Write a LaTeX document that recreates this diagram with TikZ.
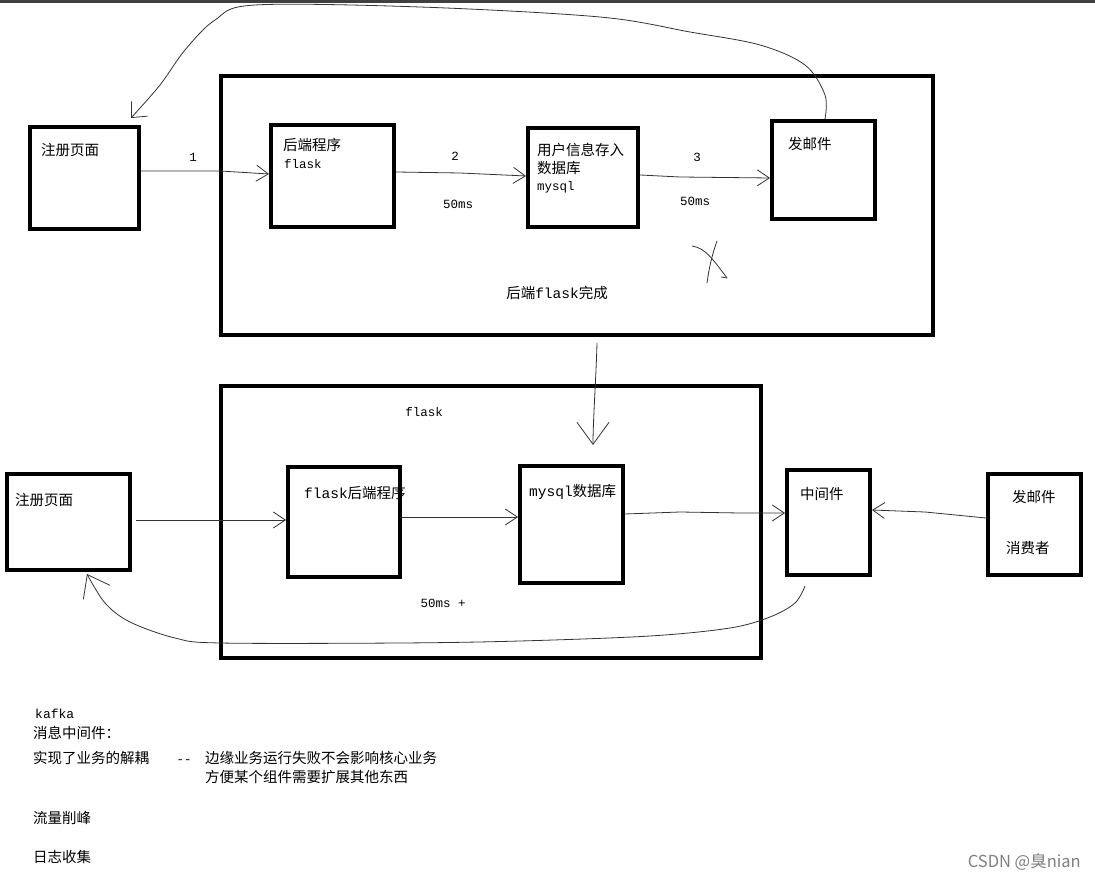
\documentclass[tikz,border=0pt]{standalone}
\usepackage{fontspec}
\setmainfont{Noto Sans CJK SC}
\newfontfamily\monof{Liberation Mono}
\usetikzlibrary{arrows.meta,fit}
\newcommand\mkbox[5]{\coordinate (#1-a) at (#2,#3); \coordinate (#1-b) at (#4,#5); \node[box,fit=(#1-a)(#1-b)] (#1) {};}
\begin{document}
\begin{tikzpicture}[x=1pt,y=-1pt,
  box/.style={draw=black,line width=4pt,inner sep=0pt},
  zh/.style={font=\fontsize{14.5}{17}\selectfont,inner sep=0pt,anchor=west},
  lat/.style={font=\monof\fontsize{12.5}{15}\selectfont,inner sep=0pt,anchor=west},
  conn/.style={draw=black!80,line width=0.8pt},
  arr/.style={conn,-{Straight Barb[length=12pt,width=16pt]}},
  bigarr/.style={conn,-{Straight Barb[length=22pt,width=32pt]}}]
\useasboundingbox (0,0) rectangle (1095,882);
\fill[white] (0,0) rectangle (1095,882);
\fill[black!75] (0,0) rectangle (1095,3);

% top section
\mkbox{big1}{221}{76}{933}{335}
\mkbox{reg1}{30}{127}{139}{229}
\mkbox{be1}{271}{125}{394}{227}
\mkbox{db1}{528}{128}{638}{227}
\mkbox{mail1}{772}{121}{875}{219}

\node[zh] (reg1t) at (41,150) {注册页面};
\node[zh] (be1t) at (283,145) {后端程序};
\node[lat] (be1f) at (284,164) {flask};
\node[zh] (db1t) at (537,150) {用户信息存入};
\node[zh] (db1u) at (537,168) {数据库};
\node[lat] (db1m) at (537,187) {mysql};
\node[zh] (mail1t) at (788,144) {发邮件};

\node[lat,anchor=center] (n1) at (193,157) {1};
\node[lat,anchor=center] (n2) at (455,156) {2};
\node[lat,anchor=center] (n3) at (697,157) {3};
\node[lat,anchor=center] (ms1) at (458,204) {50ms};
\node[lat,anchor=center] (ms2) at (695,201) {50ms};
\node[zh,anchor=center] (done) at (557,293) {后端{\monof flask}完成};

\draw[arr] ([yshift=7pt]reg1.east) -- (220,171) -- ([yshift=2pt]be1.west);
\draw[arr] ([yshift=4pt]be1.east) -- (460,173) -- ([yshift=1.5pt]db1.west);
\draw[arr] ([yshift=2.5pt]db1.east) -- (680,177) -- ([yshift=-8pt]mail1.west);

\coordinate (arcS) at ([xshift=1.5pt]mail1.north);
\coordinate (arcE) at ([shift={(-10pt,7pt)}]reg1.north east);
\draw[conn,-{Straight Barb[length=12pt,width=22pt]}] plot[smooth,tension=0.55] coordinates {(arcS) (825,95) (805,65) (760,45) (690,32) (600,17) (420,7) (255,5) (215,20) (185,50) (160,85) (arcE)};

% X mark
\draw[conn] (692,246) .. controls (705,248) and (712,258) .. (727,278);
\draw[conn] (727,278) -- (721,277);
\draw[conn] (717,241) .. controls (712,255) and (709,268) .. (707,283);

% bottom section
\mkbox{big2}{221}{386}{761}{658}
\mkbox{reg2}{7}{474}{130}{570}
\mkbox{be2}{288}{467}{400}{577}
\mkbox{db2}{520}{466}{623}{583}
\mkbox{mq}{787}{470}{870}{575}
\mkbox{cons}{988}{474}{1081}{575}

\node[lat,anchor=center] (flaskt) at (424,412) {flask};
\node[zh] (reg2t) at (15,500) {注册页面};
\node[zh] (be2t) at (304,493) {{\monof flask}后端程序};
\node[zh] (db2t) at (529,492) {{\monof mysql}数据库};
\node[zh] (mqt) at (800,494) {中间件};
\node[zh] (const) at (1012,497) {发邮件};
\node[zh] (consu) at (1006,548) {消费者};
\node[lat,anchor=center] (ms3) at (443,603) {50ms +};

\draw[bigarr] ([shift={(20pt,-6pt)}]big1.south) .. controls (596,380) and (593,420) .. ([shift={(21.5pt,19pt)}]db2.north);
\draw[arr] ([shift={(4pt,2pt)}]reg2.east) -- ([yshift=2pt]be2.west);
\draw[arr] ([yshift=5pt]be2.east) -- ([yshift=7.5pt]db2.west);
\draw[arr] ([yshift=10.5pt]db2.east) -- (680,512) -- (740,513) -- ([yshift=9.5pt]mq.west);
\draw[arr] ([yshift=6.5pt]cons.west) -- (925,512) -- ([yshift=12.5pt]mq.east);

\coordinate (bcS) at ([shift={(-23.5pt,-9pt)}]mq.south);
\coordinate (bcE) at ([shift={(18.5pt,-2pt)}]reg2.south);
\draw[conn,-{Straight Barb[length=20pt,width=30pt]}] plot[smooth,tension=0.55] coordinates {(bcS) (795,603) (770,617) (730,628) (650,636) (520,641) (400,643) (220,643) (175,638) (130,622) (105,603) (bcE)};

% notes
\node[lat,font=\monof\fontsize{13}{15}\selectfont] (kafka) at (35,714) {kafka};
\node[zh] (m1) at (33,733) {消息中间件：};
\node[zh] (m2) at (33,758) {实现了业务的解耦};
\node[lat,anchor=base] (dash) at (184,763) {-{}-};
\node[zh] (m3) at (205,758) {边缘业务运行失败不会影响核心业务};
\node[zh] (m4) at (205,777) {方便某个组件需要扩展其他东西};
\node[zh] (m5) at (33,818) {流量削峰};
\node[zh] (m6) at (33,857) {日志收集};

\node[font=\fontsize{16.5}{19}\selectfont,text=black!50,anchor=east,inner sep=0pt] (wm) at (1081,862) {CSDN @臭nian};
\end{tikzpicture}
\end{document}
